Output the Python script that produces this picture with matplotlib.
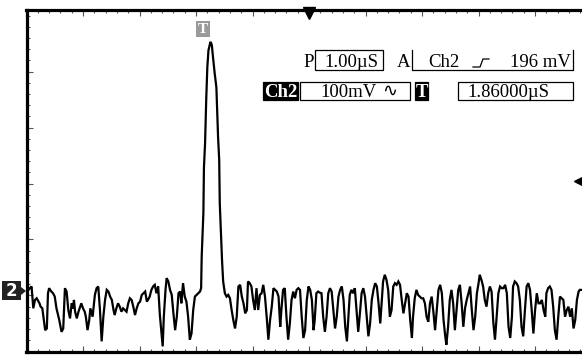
import matplotlib
matplotlib.use("Agg")
import matplotlib.pyplot as plt
from matplotlib.patches import Rectangle, Polygon
from matplotlib.lines import Line2D

# Screen settings shown on the scope
sec_per_div = 1.00      # us / div
volt_per_div = 100      # mV / div
trig_pos = 1.86         # us, horizontal position
trig_level = 196        # mV

# Ch2 trace: time (us, trigger at 0) and voltage (mV)
t_us = [
    -3.12, -3.08, -3.05, -3.02, -2.99, -2.96, -2.91, -2.89, -2.86, -2.81, -2.78, -2.76, -2.74,
    -2.70, -2.67, -2.64, -2.61, -2.56, -2.52, -2.49, -2.46, -2.43, -2.40, -2.37, -2.34, -2.32,
    -2.30, -2.28, -2.25, -2.22, -2.19, -2.17, -2.14, -2.11, -2.09, -2.06, -2.03, -2.01, -1.97,
    -1.93, -1.90, -1.87, -1.84, -1.81, -1.78, -1.75, -1.72, -1.69, -1.66, -1.63, -1.60, -1.58,
    -1.55, -1.52, -1.49, -1.46, -1.43, -1.40, -1.37, -1.34, -1.31, -1.28, -1.25, -1.22, -1.19,
    -1.16, -1.13, -1.10, -1.07, -1.04, -1.01, -0.99, -0.96, -0.93, -0.90, -0.87, -0.84, -0.81,
    -0.78, -0.75, -0.73, -0.71, -0.68, -0.66, -0.63, -0.60, -0.57, -0.54, -0.51, -0.48, -0.45,
    -0.42, -0.40, -0.37, -0.34, -0.31, -0.28, -0.25, -0.22, -0.19, -0.16, -0.13, -0.10, -0.07,
    # pulse
    -0.05, -0.04, -0.01, 0.00, 0.02, 0.04, 0.06, 0.08, 0.11, 0.12, 0.14, 0.16, 0.19, 0.22,
    0.25, 0.27, 0.28, 0.30, 0.32, 0.34,
    # after pulse
    0.37, 0.40, 0.43, 0.46, 0.49, 0.52, 0.55, 0.58, 0.61, 0.64, 0.67, 0.70, 0.73, 0.76, 0.78,
    0.81, 0.84, 0.87, 0.90, 0.93, 0.96, 0.99, 1.02, 1.05, 1.08, 1.11, 1.14, 1.17, 1.20, 1.23,
    1.26, 1.29, 1.32, 1.35, 1.37, 1.40, 1.43, 1.46, 1.49, 1.52, 1.55, 1.58, 1.61, 1.64, 1.67,
    1.70, 1.73, 1.76, 1.79, 1.82, 1.85, 1.88, 1.91, 1.94, 1.96, 1.99, 2.02, 2.05, 2.08, 2.11,
    2.14, 2.17, 2.20, 2.23, 2.26, 2.29, 2.32, 2.35, 2.38, 2.41, 2.44, 2.47, 2.50, 2.53, 2.55,
    2.58, 2.61, 2.64, 2.67, 2.70, 2.73, 2.76, 2.79, 2.82, 2.85, 2.88, 2.91, 2.94, 2.97, 3.00,
    3.03, 3.06, 3.09, 3.12, 3.14, 3.17, 3.20, 3.23, 3.26, 3.29, 3.32, 3.35, 3.38, 3.41, 3.44,
    3.47, 3.50, 3.53, 3.56, 3.59, 3.62, 3.65, 3.68, 3.70, 3.73, 3.76, 3.79, 3.82, 3.85, 3.88,
    3.91, 3.94, 3.97, 4.00, 4.03, 4.06, 4.09, 4.12, 4.15, 4.18, 4.21, 4.24, 4.27, 4.29, 4.32,
    4.35, 4.38, 4.41, 4.44, 4.47, 4.50, 4.53, 4.56, 4.59, 4.62, 4.65, 4.68, 4.71, 4.74, 4.77,
    4.80, 4.83, 4.86, 4.88, 4.91, 4.94, 4.97, 5.00, 5.03, 5.06, 5.09, 5.12, 5.15, 5.18, 5.21,
    5.24, 5.27, 5.30, 5.33, 5.36, 5.39, 5.42, 5.45, 5.47, 5.50, 5.53, 5.56, 5.59, 5.62, 5.65,
    5.68, 5.71, 5.74, 5.77, 5.80, 5.83, 5.86, 5.89, 5.92, 5.95, 5.98, 6.01, 6.04, 6.06, 6.09,
    6.12, 6.15, 6.18, 6.21, 6.24, 6.27, 6.30, 6.33, 6.36, 6.39, 6.42, 6.45, 6.48, 6.51, 6.54,
    6.57, 6.60, 6.63, 6.65, 6.68,
]
v_mv = [
    0, 5, 8, -31, -16, -13, -22, -28, -31, -70, -67, -4, 5,
    -1, -4, -10, -31, -52, -73, -67, 5, -1, -34, -49, -22, -31,
    -16, -37, -49, -37, -28, -22, -31, -37, -46, -70, -52, -31, -46,
    -7, 5, 8, -34, -90, -46, -16, 2, -1, -10, -16, -34, -43,
    -31, -22, -28, -37, -31, -34, -37, -22, -13, -16, -28, -43, -31,
    -22, -19, -7, -4, -1, -19, -16, -10, 2, 8, 11, -4, 8,
    -43, -76, -99, -46, 2, 23, 17, 2, -7, -40, -70, -46, -4,
    -1, -22, 14, -10, -19, -46, -87, -76, -34, -10, -7, -4, -1,
    # pulse
    5, 61, 139, 221, 264, 341, 400, 430, 443, 445, 439, 418, 389, 364,
    275, 234, 157, 104, 55, 17,
    # after pulse
    -4, -10, -7, -13, -34, -52, -67, -46, 8, 11, -10, -22, -40, -34, 17,
    14, 8, -16, -34, 5, -34, -7, -4, 11, -10, -46, -87, -52, -28, 5,
    2, -1, -10, -64, -34, 2, 5, -46, -87, -58, -16, -1, -13, 2, 5,
    2, -46, -84, -70, -16, 8, 2, -16, -70, -52, -4, -1, -3, -4, -46,
    -73, -46, -4, 5, -1, -34, -67, -46, -10, 2, 8, -16, -64, -90, -58,
    -7, 2, -4, 5, -34, -73, -40, -4, 5, -10, -46, -81, -58, -16, 2,
    14, 8, -22, -58, -28, 17, 29, 20, 2, -46, -34, 8, 14, 11, 17,
    11, -16, -40, -22, -4, -10, -52, -84, -46, -13, 2, -7, -10, -13, -13,
    -22, -46, -55, -22, -10, -37, -70, -34, 2, 11, -4, -52, -81, -96, -64,
    -16, 2, -22, -70, -34, 2, 11, -22, -64, -31, -16, -4, 8, -34, -70,
    -46, -4, 14, 29, 20, 8, -16, -28, -4, 8, -1, -55, -87, -46, -4,
    8, 5, 5, 11, -4, -64, -84, -46, 8, 17, 14, 8, -16, -64, -81,
    -34, 8, 14, 2, -34, -76, -34, -4, -22, -22, -16, -34, -46, -4, 5,
    8, 2, -28, -70, -87, -46, -10, -13, -16, -46, -34, -28, -46, -31, -67,
    -52, -16, -1, 2, 2,
]

W, H = 582, 355


def fx(px):
    return px / W


def fy(py):
    return 1 - py / H


fig = plt.figure(figsize=(W / 100, H / 100), dpi=100)
fig.patch.set_facecolor("white")

# screen area: left border at px 26.5, top 10, bottom 352, right edge cut off
ax = fig.add_axes([fx(26.5), fy(352), 1 - fx(26.5), (352 - 10) / H])
ax.plot(t_us, v_mv, color="black", lw=1.6, solid_joinstyle="miter")

ax.set_xlim(trig_pos - 5 * sec_per_div, 6.69)
ax.set_ylim(-109, 502)

for side in ["left", "top", "bottom"]:
    ax.spines[side].set_linewidth(2.3)
ax.spines["right"].set_visible(False)

ax.set_xticks([trig_pos + k * sec_per_div for k in range(-5, 5)])
ax.set_xticks([trig_pos - 5 + k * 0.2 for k in range(50)], minor=True)
ax.set_yticks([-8 + k * volt_per_div for k in range(0, 5)])
ax.set_yticks([-88 + k * 20 for k in range(0, 30)], minor=True)
ax.tick_params(which="both", direction="in", top=True, bottom=True, left=True, right=False,
               labelbottom=False, labelleft=False, color="#555555", width=0.8)
ax.tick_params(which="major", length=4)
ax.tick_params(which="minor", length=2)

# trigger position / level markers
ax.plot(trig_pos, 496, marker="v", ms=8, color="black", clip_on=False)
ax.plot(6.63, trig_level, marker="<", ms=7, color="black", clip_on=False)

serif = ["Liberation Serif", "DejaVu Serif"]
fs = 13.5

# grey trigger marker above the pulse
fig.add_artist(Rectangle((fx(196), fy(37)), 14 / W, 16 / H, transform=fig.transFigure,
                         color="#9a9a9a", lw=0))
fig.text(fx(203), fy(29.5), "T", color="white", family=serif, weight="bold",
         fontsize=11, ha="center", va="center")

# channel 2 ground marker
fig.add_artist(Polygon([(fx(2), fy(281)), (fx(21), fy(281)), (fx(21), fy(287)),
                        (fx(26), fy(291)), (fx(21), fy(295)), (fx(21), fy(300)),
                        (fx(2), fy(300))], closed=True, transform=fig.transFigure,
                       color="#222222", lw=0))
fig.text(fx(11.5), fy(290.5), "2", color="white", family="DejaVu Sans", weight="bold",
         fontsize=12, ha="center", va="center")


def box(x0, y0, x1, y1, fill=False):
    fig.add_artist(Rectangle((fx(x0), fy(y1)), (x1 - x0) / W, (y1 - y0) / H,
                             transform=fig.transFigure, fill=fill,
                             facecolor="black", edgecolor="black", lw=0.9))


def seg(xs, ys):
    fig.add_artist(Line2D([fx(x) for x in xs], [fy(y) for y in ys],
                          transform=fig.transFigure, color="black", lw=0.9))


# row 1: time base and trigger source
fig.text(fx(303), fy(67), "P", family=serif, fontsize=fs, va="baseline")
box(315, 50, 383, 70)
fig.text(fx(324), fy(67), "1.00\u00b5S", family=serif, fontsize=fs, va="baseline")
fig.text(fx(397), fy(67), "A", family=serif, fontsize=fs, va="baseline")
seg([412, 412, 573, 573], [50, 70, 70, 50])
fig.text(fx(428), fy(67), "Ch2", family=serif, fontsize=fs, va="baseline")
seg([473, 480, 483, 489], [67, 67, 59, 59])
fig.text(fx(510), fy(67), "196 mV", family=serif, fontsize=fs, va="baseline")

# row 2: vertical scale and horizontal position
box(263, 82, 298, 100, fill=True)
fig.text(fx(280.5), fy(97), "Ch2", family=serif, fontsize=fs, weight="bold",
         color="white", ha="center", va="baseline")
box(300, 82, 410, 100)
fig.text(fx(320), fy(97), "100mV", family=serif, fontsize=fs, va="baseline")
fig.text(fx(390), fy(91), "\u223f", family=["DejaVu Sans"], fontsize=13,
         ha="center", va="center")
box(415, 82, 428, 100, fill=True)
fig.text(fx(421.5), fy(97), "T", family=serif, fontsize=fs, weight="bold",
         color="white", ha="center", va="baseline")
box(458, 82, 573, 100)
fig.text(fx(467), fy(97), "1.86000\u00b5S", family=serif, fontsize=fs, va="baseline")

fig.savefig("out.png", dpi=100)
